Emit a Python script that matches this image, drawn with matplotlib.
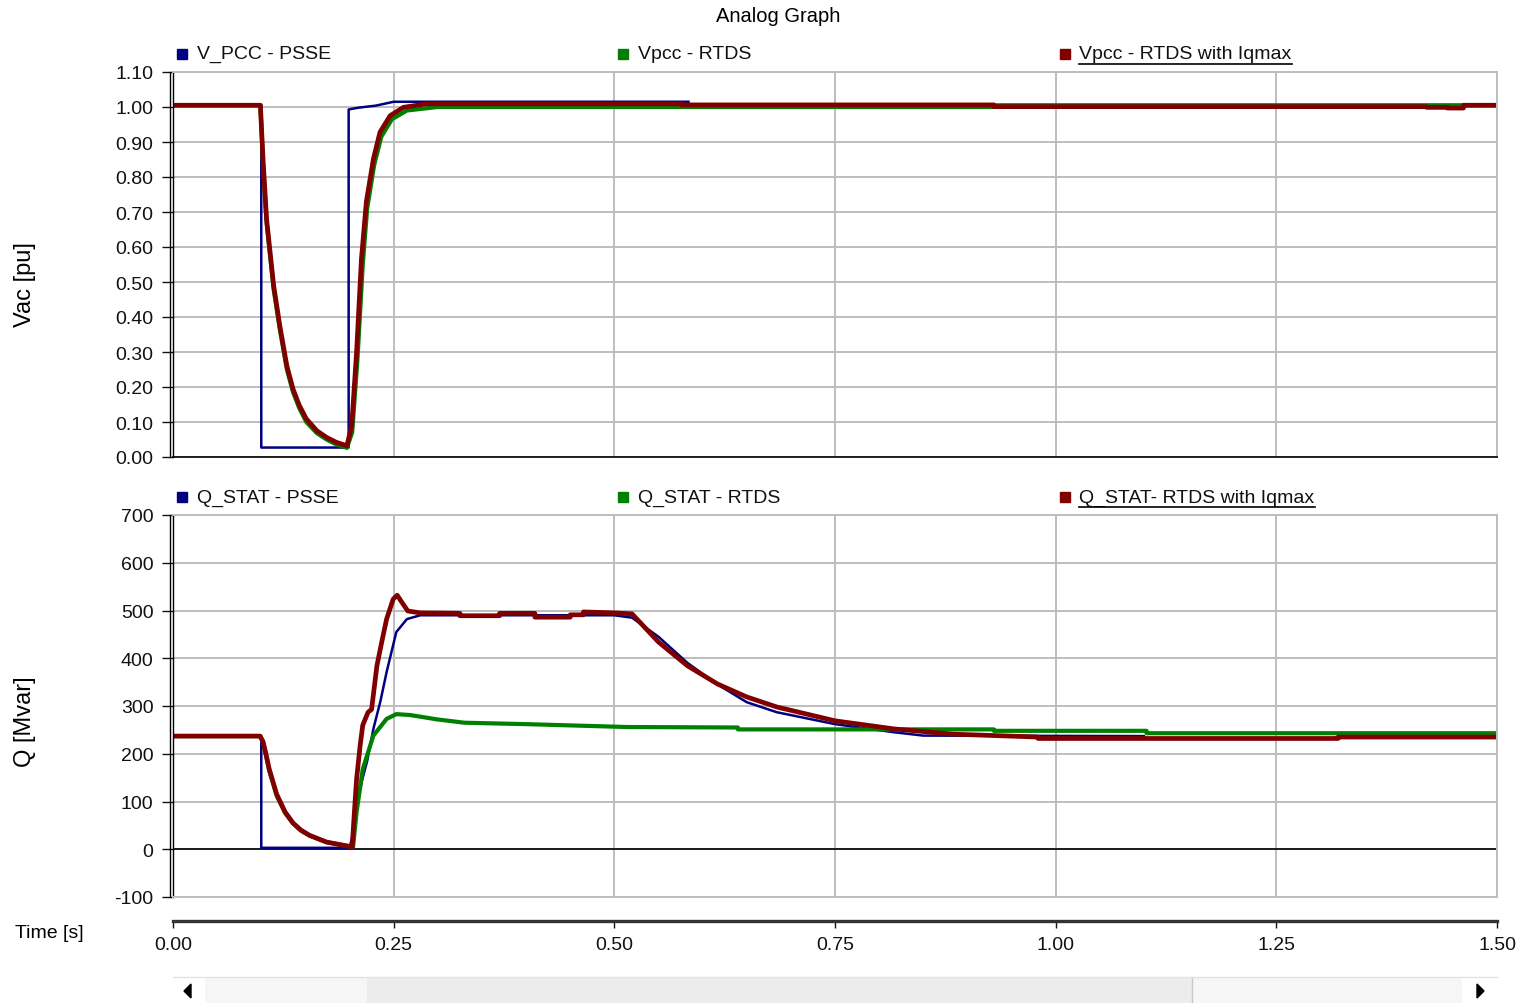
import numpy as np
import matplotlib.pyplot as plt
from matplotlib.patches import Rectangle, Polygon
from matplotlib.lines import Line2D

plt.rcParams["font.family"] = ["Liberation Sans", "DejaVu Sans"]

# Vac [pu] - tiempo (s) y valores
t_v_psse = [0, 0.1, 0.1, 0.199, 0.199, 0.21, 0.23, 0.25, 0.584]
v_psse = [1.005, 1.005, 0.027, 0.027, 0.993, 0.998, 1.004, 1.015, 1.015]

t_v_rtds = [0, 0.099, 0.102, 0.106, 0.114, 0.121, 0.129, 0.136, 0.143, 0.151, 0.163, 0.174,
            0.185, 0.197, 0.203, 0.209, 0.215, 0.22, 0.228, 0.236, 0.248, 0.265, 0.3, 0.93,
            0.93, 1.5]
v_rtds = [1.005, 1.005, 0.84, 0.67, 0.48, 0.365, 0.25, 0.185, 0.14, 0.10, 0.068, 0.05,
          0.036, 0.026, 0.07, 0.28, 0.55, 0.71, 0.835, 0.915, 0.965, 0.99, 1.0, 1.0,
          1.005, 1.005]

t_v_iq = [0, 0.099, 0.102, 0.106, 0.114, 0.121, 0.129, 0.136, 0.143, 0.151, 0.163, 0.174,
          0.185, 0.197, 0.2025, 0.208, 0.2135, 0.219, 0.227, 0.2345, 0.246, 0.261, 0.287,
          0.576, 0.576, 0.93, 0.93, 1.42, 1.42, 1.444, 1.444, 1.462, 1.462, 1.5]
v_iq = [1.005, 1.005, 0.85, 0.68, 0.49, 0.375, 0.26, 0.194, 0.148, 0.109, 0.075, 0.056,
        0.042, 0.032, 0.09, 0.30, 0.566, 0.728, 0.851, 0.928, 0.975, 0.999, 1.009,
        1.009, 1.006, 1.006, 1.001, 1.001, 0.999, 0.999, 0.997, 0.997, 1.005, 1.005]

# Q [Mvar]
t_q_psse = [0, 0.1, 0.1, 0.2, 0.205, 0.21, 0.215, 0.22, 0.227, 0.235, 0.242, 0.253,
            0.265, 0.28, 0.5, 0.52, 0.55, 0.583, 0.617, 0.65, 0.684, 0.75, 0.817, 0.85, 1.1]
q_psse = [237, 237, 3, 3, 40, 110, 150, 185, 252, 310, 371, 455,
          482, 490, 490, 485, 445, 390, 345, 308, 287, 262, 245, 238, 237]

t_q_rtds = [0, 0.0986, 0.102, 0.105, 0.109, 0.1175, 0.127, 0.136, 0.145, 0.155, 0.174, 0.197,
            0.204, 0.208, 0.215, 0.227, 0.242, 0.253, 0.269, 0.299, 0.33, 0.4, 0.514, 0.64,
            0.64, 0.93, 0.93, 1.103, 1.103, 1.5]
q_rtds = [237, 237, 225, 200, 165, 112, 76, 54, 39, 28, 15, 7,
          5, 78, 168, 238, 273, 283, 281, 272, 265, 262, 256, 255,
          251, 251, 248, 248, 243, 243]

t_q_iq = [0, 0.0986, 0.102, 0.105, 0.109, 0.1175, 0.127, 0.136, 0.145, 0.155, 0.174, 0.197,
          0.203, 0.2055, 0.208, 0.212, 0.215, 0.221, 0.225, 0.231, 0.2365, 0.242, 0.2495,
          0.254, 0.259, 0.266, 0.28, 0.325, 0.325, 0.37, 0.37, 0.41, 0.41, 0.45, 0.45,
          0.465, 0.465, 0.5, 0.52, 0.55, 0.583, 0.617, 0.65, 0.684, 0.75, 0.817, 0.884,
          0.98, 0.98, 1.32, 1.32, 1.5]
q_iq = [237, 237, 225, 202, 168, 115, 78, 55, 40, 29, 15, 7,
        5, 78, 147, 217, 260, 287, 293, 384, 434, 482, 524,
        532, 518, 499, 495, 494, 489, 489, 494, 494, 486, 486, 491,
        491, 497, 495, 493, 434, 384, 346, 319, 298, 269, 252, 241,
        235, 232, 232, 235, 235]

labels_v = ["V_PCC - PSSE", "Vpcc - RTDS", "Vpcc - RTDS with Iqmax"]
labels_q = ["Q_STAT - PSSE", "Q_STAT - RTDS", "Q_STAT- RTDS with Iqmax"]
colors = ["#000080", "#008000", "#800000"]
x_ticks = [0, 0.25, 0.5, 0.75, 1.0, 1.25, 1.5]

# Figura (pixeles)
W, H = 1522, 1004
fig = plt.figure(figsize=(W / 100, H / 100), dpi=100)
fig.patch.set_facecolor("white")

ax1 = fig.add_axes([173 / W, 1 - 458 / H, 1324 / W, 385 / H])
ax2 = fig.add_axes([173 / W, 1 - 898 / H, 1324 / W, 382 / H])

grid_c = "#bdbdbd"


def style_axes(ax, yticks, fmt):
    ax.set_xlim(0, 1.5)
    ax.set_ylim(yticks[0], yticks[-1])
    ax.set_xticks(x_ticks)
    ax.set_yticks(yticks)
    ax.set_yticklabels([fmt.format(v) for v in yticks])
    ax.grid(True, color=grid_c, lw=1.4)
    ax.set_axisbelow(True)
    ax.tick_params(axis="x", length=0, labelbottom=False)
    ax.tick_params(axis="y", length=8, width=1, pad=6, labelsize=14, colors="#111111")
    for s in ["top", "right", "bottom"]:
        ax.spines[s].set_color(grid_c)
        ax.spines[s].set_linewidth(1.4)
    ax.spines["left"].set_color("black")
    ax.spines["left"].set_linewidth(1)
    # segunda linea del eje izquierdo
    p = ax.get_position()
    fig.add_artist(Line2D([170 / W, 170 / W], [p.y0, p.y1], transform=fig.transFigure,
                          color="black", lw=1))


style_axes(ax1, np.round(np.arange(0, 1.11, 0.1), 2), "{:.2f}")
style_axes(ax2, list(range(-100, 701, 100)), "{:d}")
ax1.spines["bottom"].set_color("black")
ax1.spines["bottom"].set_linewidth(1.2)
ax2.axhline(0, color="black", lw=1.2, zorder=1.5)

# Curvas
ax1.plot(t_v_psse, v_psse, color=colors[0], lw=1.8)
ax1.plot(t_v_rtds, v_rtds, color=colors[1], lw=3.0)
ax1.plot(t_v_iq, v_iq, color=colors[2], lw=3.4)

ax2.plot(t_q_psse, q_psse, color=colors[0], lw=1.8)
ax2.plot(t_q_rtds, q_rtds, color=colors[1], lw=3.0)
ax2.plot(t_q_iq, q_iq, color=colors[2], lw=3.4)

# Leyendas


def legend_row(ax, labels):
    texts = []
    for i, (lab, col) in enumerate(zip(labels, colors)):
        x0 = i / 3
        ax.plot([x0 + 0.0068], [1.047], marker="s", ms=7.5, color=col, ls="none",
                transform=ax.transAxes, clip_on=False)
        texts.append(ax.text(x0 + 0.018, 1.047, lab, transform=ax.transAxes,
                             fontsize=14, va="center", ha="left", color="#111111"))
    return texts


leg_v = legend_row(ax1, labels_v)
leg_q = legend_row(ax2, labels_q)

# Eje de tiempo
axt = fig.add_axes([173 / W, 1 - 922 / H, 1324 / W, 1 / H])
axt.set_xlim(0, 1.5)
axt.set_xticks(x_ticks)
axt.set_xticklabels(["{:.2f}".format(v) for v in x_ticks])
axt.set_yticks([])
axt.patch.set_visible(False)
for s in ["top", "left", "right"]:
    axt.spines[s].set_visible(False)
axt.spines["bottom"].set_color("#333333")
axt.spines["bottom"].set_linewidth(2.4)
axt.tick_params(axis="x", length=5, width=1, pad=6, labelsize=14, colors="#111111")

# Textos
fig.text(778 / W, 1 - 17 / H, "Analog Graph", fontsize=14.5, ha="center", va="center")
fig.text(25 / W, 1 - 285 / H, "Vac [pu]", fontsize=17, rotation=90, ha="center", va="center")
fig.text(25 / W, 1 - 722 / H, "Q [Mvar]", fontsize=17, rotation=90, ha="center", va="center")
fig.text(15 / W, 1 - 934 / H, "Time [s]", fontsize=14, ha="left", va="center")

# Barra de desplazamiento
fig.add_artist(Rectangle((205 / W, 0), (1462 - 205) / W, 26 / H, transform=fig.transFigure,
                         facecolor="#f6f6f6", edgecolor="none"))
fig.add_artist(Rectangle((367 / W, 0), (1192 - 367) / W, 26 / H, transform=fig.transFigure,
                         facecolor="#ececec", edgecolor="none"))
fig.add_artist(Line2D([1192 / W, 1192 / W], [0, 26 / H], transform=fig.transFigure,
                      color="#c8c8c8", lw=1))
fig.add_artist(Line2D([173 / W, 1497 / W], [26 / H, 26 / H], transform=fig.transFigure,
                      color="#e2e2e2", lw=1))
yc = 1 - 992 / H
fig.add_artist(Polygon([[184 / W, yc], [191 / W, yc + 7 / H], [191 / W, yc - 7 / H]],
                       closed=True, transform=fig.transFigure, color="black"))
fig.add_artist(Polygon([[1484 / W, yc], [1477 / W, yc + 7 / H], [1477 / W, yc - 7 / H]],
                       closed=True, transform=fig.transFigure, color="black"))

# Subrayado de la tercera leyenda
fig.canvas.draw()
inv = fig.transFigure.inverted()
for txt in [leg_v[2], leg_q[2]]:
    bb = txt.get_window_extent().transformed(inv)
    fig.add_artist(Line2D([bb.x0, bb.x1], [bb.y0 - 1.5 / H, bb.y0 - 1.5 / H],
                          transform=fig.transFigure, color="black", lw=1.2))

plt.savefig("out.png", dpi=100)
